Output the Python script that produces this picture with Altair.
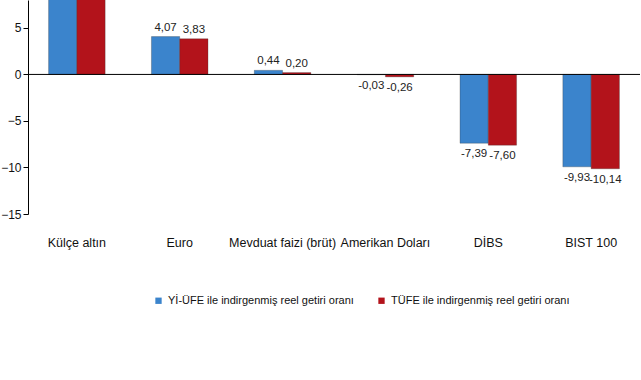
import altair as alt
import pandas as pd

categories = ["Külçe altın", "Euro", "Mevduat faizi (brüt)", "Amerikan Doları", "DİBS", "BIST 100"]
series = ["Yİ-ÜFE ile indirgenmiş reel getiri oranı", "TÜFE ile indirgenmiş reel getiri oranı"]
yi_ufe = [11.60, 4.07, 0.44, -0.03, -7.39, -9.93]
tufe = [11.35, 3.83, 0.20, -0.26, -7.60, -10.14]
colors = ["#3b84cc", "#b3131b"]

rows = []
for i, c in enumerate(categories):
    for s, vals in zip(series, [yi_ufe, tufe]):
        v = vals[i]
        rows.append({"cat": c, "series": s, "value": v,
                     "label": f"{v:.2f}".replace(".", ",")})
df = pd.DataFrame(rows)

FONT = "Liberation Sans"
YMAX = 8

x = alt.X("cat:N", sort=categories, title=None,
          scale=alt.Scale(paddingInner=0.45, paddingOuter=0.2),
          axis=alt.Axis(labelAngle=0, labelFont=FONT, labelFontSize=12.5, labelColor="#111",
                        domain=False, ticks=False, labelPadding=22))
xo = alt.XOffset("series:N", sort=series)
y = alt.Y("value:Q", title=None,
          scale=alt.Scale(domain=[-15, YMAX], nice=False),
          axis=alt.Axis(values=[-15, -10, -5, 0, 5], grid=False, domainColor="#000",
                        tickColor="#000", tickSize=5, labelFont=FONT, labelFontSize=12,
                        labelColor="#111", labelPadding=2))

base = alt.Chart(df).encode(x=x, xOffset=xo)

bars = base.mark_bar(clip=True, stroke="#333", strokeWidth=0.3).encode(
    y=y,
    color=alt.Color("series:N", sort=series,
                    scale=alt.Scale(domain=series, range=colors),
                    legend=alt.Legend(title=None, orient="none", legendX=125, legendY=295,
                                      direction="horizontal", symbolType="square",
                                      symbolSize=40, symbolStrokeWidth=0,
                                      labelFont=FONT, labelFontSize=11, labelColor="#111",
                                      columnPadding=22, labelLimit=400)),
)

pos_text = base.transform_filter(f"datum.value >= 0 && datum.value < {YMAX - 1}").mark_text(
    dy=-9, font=FONT, fontSize=11.5, color="#222").encode(
    y=alt.Y("value:Q"), text="label:N")
neg_text = base.transform_filter("datum.value < 0").mark_text(
    dy=11, font=FONT, fontSize=11.5, color="#222").encode(
    y=alt.Y("value:Q"), text="label:N")

zero = alt.Chart(pd.DataFrame({"z": [0]})).mark_rule(color="#000", strokeWidth=1).encode(
    y=alt.Y("z:Q"))

chart = alt.layer(bars, pos_text, neg_text, zero).properties(
    width=612, height=214,
    background="white",
    autosize=alt.AutoSizeParams(type="none"),
    padding={"left": 28, "top": 0, "right": 1, "bottom": 166},
).configure_view(stroke=None, strokeWidth=0)

chart.save("out.html", embed_options={"renderer": "svg", "actions": False})
